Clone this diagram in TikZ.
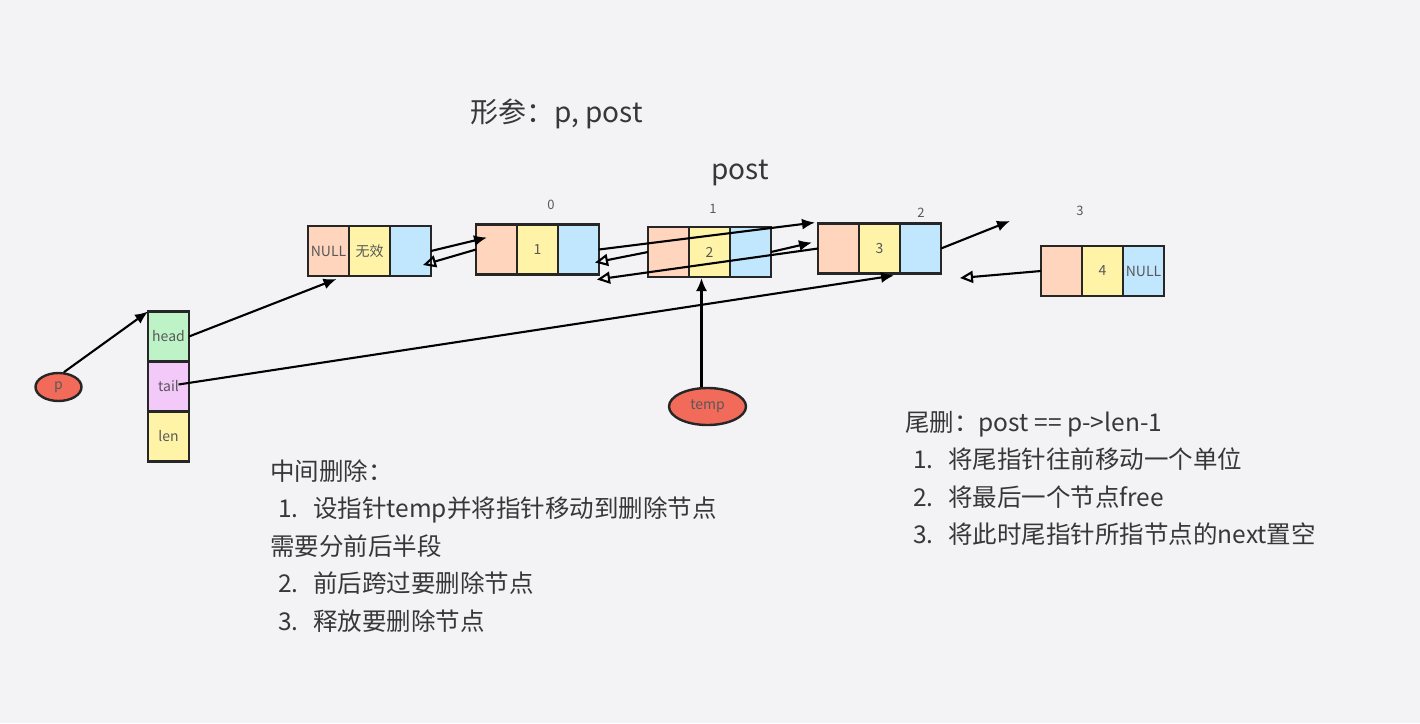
\documentclass[tikz,border=0pt]{standalone}
\usepackage{fontspec}
\setmainfont{Noto Sans CJK SC}
\usetikzlibrary{calc,shapes.geometric,arrows.meta,positioning}
\definecolor{bg}{RGB}{243,243,246}
\definecolor{pk}{RGB}{255,213,190}
\definecolor{yl}{RGB}{255,243,168}
\definecolor{bl}{RGB}{193,231,255}
\definecolor{gr}{RGB}{190,243,200}
\definecolor{pu}{RGB}{243,201,249}
\definecolor{rd}{RGB}{242,106,90}
\definecolor{lbl}{RGB}{88,88,88}
\definecolor{ink}{RGB}{55,55,55}
\tikzset{
	cell/.style={draw=black!85,line width=2.8pt,minimum width=41pt,minimum height=50pt,inner sep=0pt,outer sep=0pt,text=lbl,font=\fontsize{14}{16}\selectfont},
	oval/.style={ellipse,draw=black!85,line width=2.4pt,fill=rd,inner sep=0pt,text=lbl,font=\fontsize{14}{16}\selectfont},
	idx/.style={text=black!65,font=\fontsize{13}{15}\selectfont},
	txt/.style={text=ink,align=left,inner sep=0pt,font=\fontsize{24.5}{37.5}\selectfont},
	nxt/.style={-{Latex[length=13pt,width=11pt]},line width=2.1pt},
	prv/.style={-{Triangle[open,length=13pt,width=12pt]},line width=2.1pt},
}
\begin{document}
\begin{tikzpicture}[x=1pt,y=-1pt]
	\useasboundingbox (0,0) rectangle (1420,723);
	\fill[bg] (0,0) rectangle (1420,723);
	% p and the head/tail/len block
	\node(p) [oval,minimum width=46pt,minimum height=28pt] at (58.5,387) {p};
	\node(h) [cell,fill=gr] at (168.5,336.5) {head};
	\node(t) [cell,fill=pu,below=0pt of h] {tail};
	\node(l) [cell,fill=yl,below=0pt of t] {len};
	% list nodes
	\node(z1) [cell,fill=pk] at (328.5,251) {NULL};
	\node(z2) [cell,fill=yl,right=0pt of z1] {无效};
	\node(z3) [cell,fill=bl,right=0pt of z2] {};
	\node(a1) [cell,fill=pk] at (496.5,249.5) {};
	\node(a2) [cell,fill=yl,right=0pt of a1] {1};
	\node(a3) [cell,fill=bl,right=0pt of a2] {};
	\node(b1) [cell,fill=pk] at (668.5,252) {};
	\node(b2) [cell,fill=yl,right=0pt of b1] {2};
	\node(b3) [cell,fill=bl,right=0pt of b2] {};
	\node(c1) [cell,fill=pk] at (838.5,248.5) {};
	\node(c2) [cell,fill=yl,right=0pt of c1] {3};
	\node(c3) [cell,fill=bl,right=0pt of c2] {};
	\node(d1) [cell,fill=pk] at (1061.5,271) {};
	\node(d2) [cell,fill=yl,right=0pt of d1] {4};
	\node(d3) [cell,fill=bl,right=0pt of d2] {NULL};
	\node(i0) [idx] at (551,205) {0};
	\node(i1) [idx] at (713,209) {1};
	\node(i2) [idx] at (921,213) {2};
	\node(i3) [idx] at (1080,211) {3};
	\node(tmp) [oval,minimum width=77pt,minimum height=37pt] at (707.5,406.5) {temp};
	\coordinate(e1) at (1010,221);
	\coordinate(e2) at (960,278);
	% texts
	\node(ttl) [txt,anchor=base west,font=\fontsize{28}{32}\selectfont] at (470,122) {形参：p, post};
	\node(pst) [txt,anchor=base,font=\fontsize{28}{32}\selectfont] at (740,179) {post};
	\node(mid) [txt,anchor=base west] at (270,630) {中间删除：\\
		\hspace*{8pt}\makebox[35pt][l]{1.}设指针temp并将指针移动到删除节点\\
		需要分前后半段\\
		\hspace*{8pt}\makebox[35pt][l]{2.}前后跨过要删除节点\\
		\hspace*{8pt}\makebox[35pt][l]{3.}释放要删除节点};
	\node(rt) [txt,anchor=base west] at (905,543.5) {尾删：post == p->len-1\\
		\hspace*{8pt}\makebox[35pt][l]{1.}将尾指针往前移动一个单位\\
		\hspace*{8pt}\makebox[35pt][l]{2.}将最后一个节点free\\
		\hspace*{8pt}\makebox[35pt][l]{3.}将此时尾指针所指节点的next置空};
	% pointers
	\draw[nxt] (p.70) -- (h.north west);
	\draw[nxt] (h.east) -- ($(z1.south)+(8,3)$);
	\draw[nxt] ($(t.center)+(10,-2)$) -- ($(c2.south east)+(-6,2)$);
	\draw[nxt] ($(tmp.north)+(-6,0)$) -- ($(b2.south)+(-8,1)$);
	\draw[nxt] (z3.east) -- ($(a1.west)+(11,-12)$);
	\draw[prv] (a1.west) -- ($(z3.south east)+(-8,-11)$);
	\draw[nxt] (a3.east) -- ($(c1.north west)+(-3,-1)$);
	\draw[prv] (b1.west) -- ($(a3.east)+(-4,13)$);
	\draw[nxt] (b3.east) -- ($(c1.west)+(-6,-6)$);
	\draw[prv] (c1.west) -- ($(a3.south east)+(-2,5)$);
	\draw[nxt] (c3.east) -- (e1);
	\draw[prv] (d1.west) -- (e2);
\end{tikzpicture}
\end{document}
